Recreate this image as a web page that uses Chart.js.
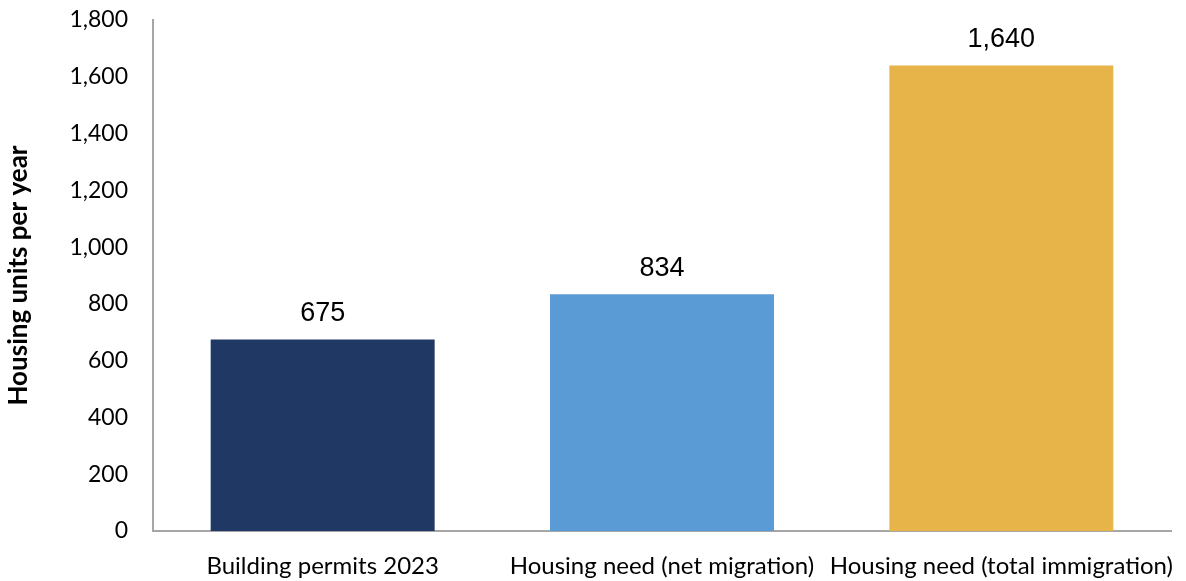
<!DOCTYPE html>
<html>
<head>
<meta charset="utf-8">
<script src="https://cdn.jsdelivr.net/npm/chart.js@4/dist/chart.umd.min.js"></script>
<style>
  html, body { margin: 0; padding: 0; background: #ffffff; }
  #wrap { width: 1186px; height: 581px; }
</style>
</head>
<body>
<div id="wrap"><canvas id="housingChart"></canvas></div>
<script>
// categories and values
var categories = ['Building permits 2023', 'Housing need (net migration)', 'Housing need (total immigration)'];
var unitsPerYear = [675, 834, 1640];
var barColors = ['#203864', '#5b9bd5', '#e6b448'];
var yTitle = 'Housing units per year';

// draws the value above each bar
var valueLabels = {
    id: 'valueLabels',
    afterDatasetsDraw: function (chart) {
        var ctx = chart.ctx;
        var meta = chart.getDatasetMeta(0);
        ctx.save();
        ctx.font = '27px "Liberation Sans", Arial, sans-serif';
        ctx.fillStyle = '#000000';
        ctx.textAlign = 'center';
        ctx.textBaseline = 'middle';
        meta.data.forEach(function (bar, i) {
            var v = chart.data.datasets[0].data[i];
            ctx.fillText(v.toLocaleString('en-US'), bar.x, bar.y - 26);
        });
        ctx.restore();
    }
};

var ctx = document.getElementById('housingChart').getContext('2d');

var chart = new Chart(ctx, {
    type: 'bar',
    data: {
        labels: categories,
        datasets: [{
            data: unitsPerYear,
            backgroundColor: barColors,
            borderWidth: 0,
            categoryPercentage: 1,
            barPercentage: 0.66
        }]
    },
    options: {
        responsive: true,
        maintainAspectRatio: false,
        animation: false,
        layout: {
            padding: { top: 20, right: 15, bottom: 0, left: 0 }
        },
        plugins: {
            legend: { display: false },
            tooltip: { enabled: false }
        },
        scales: {
            x: {
                grid: { display: false, drawTicks: false },
                border: { display: true, color: '#a6a6a6', width: 2 },
                afterFit: function (scale) {
                    scale.height = 50;
                    scale.paddingLeft = 0;
                    scale.paddingRight = 0;
                },
                ticks: {
                    autoSkip: false,
                    maxRotation: 0,
                    padding: 21,
                    color: '#000000',
                    font: { family: 'Lato', size: 24 }
                }
            },
            y: {
                min: 0,
                max: 1800,
                grid: { display: false, drawTicks: false },
                border: { display: true, color: '#a6a6a6', width: 2 },
                afterFit: function (scale) {
                    scale.width = 153;
                    scale.paddingTop = 0;
                    scale.paddingBottom = 0;
                },
                ticks: {
                    stepSize: 200,
                    padding: 25,
                    color: '#000000',
                    font: { family: 'Lato', size: 23 },
                    callback: function (value) { return value.toLocaleString('en-US'); }
                },
                title: {
                    display: true,
                    text: yTitle,
                    color: '#000000',
                    padding: { top: 3, bottom: 0 },
                    font: { family: 'Lato', size: 26, weight: 'bold' }
                }
            }
        }
    },
    plugins: [valueLabels]
});
</script>
</body>
</html>
